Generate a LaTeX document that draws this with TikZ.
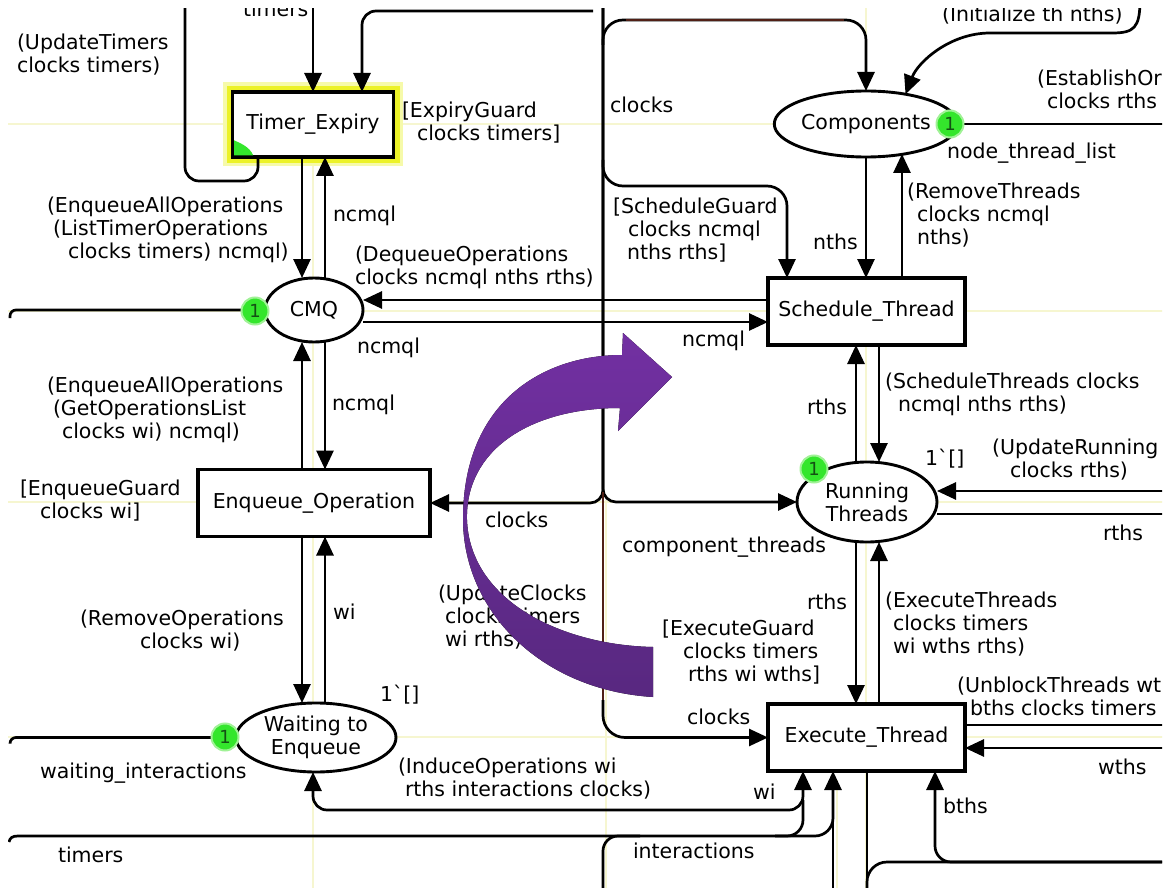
\documentclass[tikz,border=0pt]{standalone}
\usepackage{fontspec}
\setmainfont{DejaVu Sans}
\usetikzlibrary{arrows.meta,shapes.geometric}
\definecolor{tokgreen}{RGB}{52,230,44}
\definecolor{tokglow}{RGB}{160,242,150}
\definecolor{tokdark}{RGB}{20,80,20}
\definecolor{guidecol}{RGB}{246,246,208}
\definecolor{hl}{RGB}{236,242,40}
\definecolor{hlglow}{RGB}{246,250,170}
\definecolor{purA}{RGB}{114,48,162}
\definecolor{purB}{RGB}{88,40,128}
\definecolor{brn}{RGB}{80,32,22}
\begin{document}
\begin{tikzpicture}[x=1pt,y=-1pt,
  >={Triangle[length=19pt,width=17pt]},
  every node/.style={inner sep=0pt,outer sep=0pt,font=\fontsize{20.5}{23}\selectfont},
  ttrans/.style={draw=black,line width=3.3pt,fill=white,rectangle},
  tplace/.style={draw=black,line width=2.9pt,fill=white,ellipse},
  tok/.style={circle,fill=tokgreen,draw=tokglow,line width=2pt,minimum size=27pt,text=tokdark,font=\fontsize{18}{18}\selectfont},
  cline/.style={draw=black,line width=2.7pt},
  guide/.style={draw=guidecol,line width=2pt},
  lbl/.style={anchor=west},
  mlbl/.style={anchor=north west,align=left},
]
\useasboundingbox (0,0) rectangle (1171,888);
\fill[white] (0,0) rectangle (1171,888);
\clip (8,9) rectangle (1162,888);

% helper columns / rows
\coordinate (c258) at (258,0);
\coordinate (c302) at (302,0);
\coordinate (c313) at (313,0);
\coordinate (c325) at (325,0);
\coordinate (c362) at (362,0);
\coordinate (c787) at (787,0);
\coordinate (c803) at (803,0);
\coordinate (c833) at (833,0);
\coordinate (c856) at (856,0);
\coordinate (c867) at (867,0);
\coordinate (c879) at (879,0);
\coordinate (c902) at (902,0);
\coordinate (c935) at (935,0);
\coordinate (r300) at (0,300);
\coordinate (r322) at (0,322);
\coordinate (r491) at (0,491);
\coordinate (r514) at (0,514);
\coordinate (r725) at (0,725);
\coordinate (r748) at (0,748);

% guides
\draw[guide] (8,124) -- (1171,124);
\draw[guide] (8,311) -- (1171,311);
\draw[guide] (8,502) -- (1171,502);
\draw[guide] (8,737) -- (1171,737);
\draw[guide] (313,0) -- (313,888);
\draw[guide] (866,0) -- (866,888);
\draw[guide] (606,500) -- (606,888);
\draw[guide] (837,780) -- (837,888);

% nodes
\node[ttrans,minimum width=161pt,minimum height=65pt,
      preaction={draw=hlglow,line width=19pt},
      preaction={draw=hl,line width=12pt}] (te) at (313,124.5) {Timer\_Expiry};
\node[tplace,minimum width=98pt,minimum height=64pt] (cmq) at (314,310) {CMQ};
\node[ttrans,minimum width=232pt,minimum height=67pt] (enq) at (314,503) {Enqueue\_Operation};
\node[tplace,minimum width=160pt,minimum height=69pt,align=center] (wte) at (316,737.5) {Waiting to\\Enqueue};
\node[tplace,minimum width=144pt,minimum height=66pt] (comp) at (866,124) {Components};
\node[ttrans,minimum width=197pt,minimum height=67pt] (sch) at (866.5,311.5) {Schedule\_Thread};
\node[tplace,minimum width=140pt,minimum height=80pt,align=center] (run) at (867,502) {Running\\Threads};
\node[ttrans,minimum width=197pt,minimum height=67pt] (exe) at (866.5,737.5) {Execute\_Thread};
\fill[tokgreen] ([shift={(1.7,-1.7)}]te.south west) -- ++(19,0) .. controls +(-4,-9) and +(6,3) .. ++(-19,-15) -- cycle;

% Timer_Expiry arcs
\draw[cline,->] (313,0) -- (te.north);
\draw[cline,->,rounded corners=14pt] (593,11) -| (c362 |- te.north);
\draw[cline,rounded corners=14pt] (c258 |- te.south) |- (185,181) -- (185,0);
\draw[cline,->] (c302 |- te.south) -- (c302 |- cmq.north);
\draw[cline,->] (c325 |- cmq.north) -- (c325 |- te.south);

% CMQ arcs
\draw[cline,->,rounded corners=6pt] (10,318) |- (cmq.west);
\draw[cline,->] (sch.west |- r300) -- (cmq.east |- r300);
\draw[cline,->] (cmq.east |- r322) -- (sch.west |- r322);
\draw[cline,->] (c302 |- enq.north) -- (c302 |- cmq.south);
\draw[cline,->] (c325 |- cmq.south) -- (c325 |- enq.north);

% clocks trunk
\draw[cline,->,rounded corners=13pt] (603,0) |- (enq.east);
\draw[cline,->,rounded corners=13pt] (603,0) |- (run.west);
\draw[cline,draw=brn] (603,492) -- (603,705);
\draw[cline,->,rounded corners=22pt] (603,700) |- (exe.west);
\draw[cline,->,rounded corners=20pt] (603,45) |- (866,20) -- (comp.north);
\draw[cline,draw=brn,line width=2.2pt] (626,20) -- (844,20);
\draw[cline,->,rounded corners=20pt] (603,160) |- (787,186) -- (c787 |- sch.north);

% Components arcs
\draw[cline,->] (comp.south) -- (sch.north -| comp.south);
\draw[cline,->] (c902 |- sch.north) -- (c902 |- comp.-38);
\draw[cline,->] (1140,0) .. controls (1140,28) and (1134,33) .. (1112,33) -- (990,33) .. controls (950,33) and (918,62) .. (comp.37);
\draw[cline] (comp.east) -- (1171,124);

% Schedule / Running
\draw[cline,->] (c856 |- run.north) -- (c856 |- sch.south);
\draw[cline,->] (c879 |- sch.south) -- (c879 |- run.north);
\draw[cline,->] (1171,491) -- (run.east |- r491);
\draw[cline] (run.east |- r514) -- (1171,514);

% Running / Execute
\draw[cline,->] (c856 |- run.south) -- (c856 |- exe.north);
\draw[cline,->] (c879 |- exe.north) -- (c879 |- run.south);
\draw[cline] (exe.east |- r725) -- (1171,725);
\draw[cline,->] (1171,748) -- (exe.east |- r748);

% Enqueue / Waiting
\draw[cline,->] (c302 |- enq.south) -- (c302 |- wte.north);
\draw[cline,->] (c325 |- wte.north) -- (c325 |- enq.south);
\draw[cline,->,rounded corners=6pt] (10,743) |- (wte.west);
\draw[cline,<->,rounded corners=14pt] (c313 |- wte.south) |- (803,810) -- (c803 |- exe.south);

% bottom lines
\draw[cline] (9,842) .. controls (10,838) and (12,836) .. (18,836) [rounded corners=18pt] -| (833,790);
\draw[cline,->] (833,900) -- (c833 |- exe.south);
\draw[cline,rounded corners=16pt] (775,836) -| (803,800);
\draw[cline,rounded corners=15pt] (603,900) |- (640,836);
\draw[cline] (c867 |- exe.south) -- (867,900);
\draw[cline,rounded corners=20pt] (867,900) |- (1171,862);
\draw[cline,->,rounded corners=16pt] (1171,862) -| (c935 |- exe.south);

% tokens
\node[tok] (cmqtok) at (255,311) {1};
\node[tok] (comptok) at (950,124) {1};
\node[tok] (runtok) at (814,469) {1};
\node[tok] (wtetok) at (225,737) {1};

% labels
\node[lbl] (l1) at (243,9) {timers};
\node[mlbl] (l2) at (17,34) {(UpdateTimers\\clocks timers)};
\node[mlbl] (l3) at (402,102) {[ExpiryGuard\\\hspace*{15pt}clocks timers]};
\node[mlbl] (l4) at (47,197) {(EnqueueAllOperations\\\hspace*{6pt}(ListTimerOperations\\\hspace*{21pt}clocks timers) ncmql)};
\node[lbl] (l5) at (333,216) {ncmql};
\node[mlbl] (l6) at (355,246) {(DequeueOperations\\clocks ncmql nths rths)};
\node[lbl] (l7) at (357,348) {ncmql};
\node[lbl] (l8) at (682,341) {ncmql};
\node[mlbl] (l9) at (613,198) {[ScheduleGuard\\\hspace*{15pt}clocks ncmql\\\hspace*{14pt}nths rths]};
\node[lbl] (l10) at (610,105) {clocks};
\node[lbl] (l11) at (813,242) {nths};
\node[mlbl] (l12) at (907,183) {(RemoveThreads\\\hspace*{10pt}clocks ncmql\\\hspace*{10pt}nths)};
\node[mlbl] (l13) at (1037,70) {(EstablishOr\\\hspace*{10pt}clocks rths};
\node[lbl] (l14) at (947,153) {node\_thread\_list};
\node[anchor=base west] (l15) at (942,22) {(Initialize th nths)};
\node[mlbl] (l16) at (47,377) {(EnqueueAllOperations\\\hspace*{6pt}(GetOperationsList\\\hspace*{15pt}clocks wi) ncmql)};
\node[lbl] (l17) at (332,405) {ncmql};
\node[mlbl] (l18) at (20,480) {[EnqueueGuard\\\hspace*{20pt}clocks wi]};
\node[lbl] (l19) at (485,520) {clocks};
\node[lbl] (l20) at (622,547) {component\_threads};
\node[lbl] (l21) at (807,407) {rths};
\node[mlbl] (l22) at (885,373) {(ScheduleThreads clocks\\\hspace*{13pt}ncmql nths rths)};
\node[lbl] (l23) at (925,459) {1ˋ[]};
\node[mlbl] (l24) at (992,439) {(UpdateRunning\\\hspace*{18pt}clocks rths)};
\node[lbl] (l25) at (1103,533) {rths};
\node[mlbl] (l26) at (80,610) {(RemoveOperations\\\hspace*{60pt}clocks wi)};
\node[lbl] (l27) at (333,612) {wi};
\node[lbl] (l28) at (380,695) {1ˋ[]};
\node[lbl] (l29) at (40,773) {waiting\_interactions};
\node[lbl] (l30) at (58,855) {timers};
\node[mlbl] (l31) at (438,585) {(UpdateClocks\\\hspace*{7pt}clocks timers\\\hspace*{7pt}wi rths)};
\node[mlbl] (l32) at (662,620) {[ExecuteGuard\\\hspace*{21pt}clocks timers\\\hspace*{26pt}rths wi wths]};
\node[lbl] (l33) at (687,717) {clocks};
\node[mlbl] (l34) at (398,758) {(InduceOperations wi\\\hspace*{7pt}rths interactions clocks)};
\node[lbl] (l35) at (753,792) {wi};
\node[lbl] (l36) at (807,602) {rths};
\node[mlbl] (l37) at (885,592) {(ExecuteThreads\\\hspace*{8pt}clocks timers\\\hspace*{8pt}wi wths rths)};
\node[mlbl] (l38) at (957,677) {(UnblockThreads wt\\\hspace*{13pt}bths clocks timers};
\node[lbl] (l39) at (1098,767) {wths};
\node[lbl] (l40) at (943,806) {bths};
\node[lbl] (l41) at (633,851) {interactions};

% purple curved arrow
\fill[top color=purA,bottom color=purB]
  (622,355) .. controls (545,355) and (464,400) .. (463,517)
  .. controls (462,610) and (540,690) .. (653,697)
  -- (653,647)
  .. controls (560,645) and (470,600) .. (467,520)
  .. controls (465,450) and (530,408) .. (620,408)
  -- (618,431) -- (672,377) -- (623,333) -- cycle;
\end{tikzpicture}
\end{document}
